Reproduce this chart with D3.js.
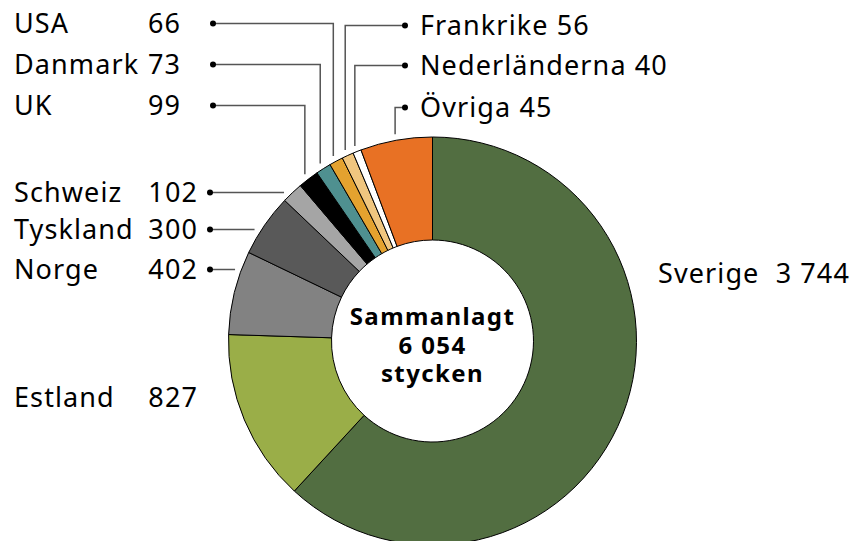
<!DOCTYPE html>
<html>
<head>
<meta charset="utf-8">
<script src="https://cdn.jsdelivr.net/npm/d3@7"></script>
<style>
  body { margin: 0; background: #fff; }
  text { font-family: "Noto Sans", sans-serif; fill: #000; }
</style>
</head>
<body>
<svg id="chart" width="857" height="541"></svg>
<script>
// data
var categories = ["Sverige", "Estland", "Norge", "Tyskland", "Schweiz", "UK", "Danmark", "USA", "Frankrike", "Nederländerna", "Övriga"];
var labelValues = ["3 744", "827", "402", "300", "102", "99", "73", "66", "56", "40", "45"];
// size of each slice as drawn (the orange Övriga slice is drawn much larger than its label)
var sliceValues = [3744, 827, 402, 300, 102, 99, 73, 66, 56, 40, 345];
var colors = ["#526e41", "#9aae48", "#828282", "#595959", "#a5a5a5", "#000000", "#4f9090", "#e4a22f", "#f0c67f", "#ffffff", "#e87124"];
var centerLines = ["Sammanlagt", "6 054", "stycken"];

var svg = d3.select("#chart");
var cx = 432.5, cy = 341, R = 204, r0 = 101;

var pie = d3.pie().sort(null).value(d => d.v);
var arc = d3.arc().innerRadius(r0).outerRadius(R);

var data = categories.map((c, i) => ({name: c, v: sliceValues[i], label: labelValues[i], color: colors[i]}));
var arcs = pie(data);

var g = svg.append("g").attr("transform", `translate(${cx},${cy})`);

g.selectAll("path.slice")
  .data(arcs)
  .enter().append("path")
  .attr("class", "slice")
  .attr("d", arc)
  .attr("fill", d => d.data.color)
  .attr("stroke", "#000")
  .attr("stroke-width", 1);

// centre text
g.selectAll("text.center")
  .data(centerLines)
  .enter().append("text")
  .attr("class", "center")
  .attr("text-anchor", "middle")
  .attr("y", (d, i) => -16 + i * 28.5)
  .style("font-weight", "bold")
  .style("font-size", "24px")
  .style("letter-spacing", "1.4px")
  .text(d => d);

// label layout
var layout = {
  "USA":           {side: "left",  y: 33,  numX: 181, dotX: 213, route: "v"},
  "Danmark":       {side: "left",  y: 74,  numX: 181, dotX: 213, route: "v"},
  "UK":            {side: "left",  y: 115, numX: 181, dotX: 213, route: "v"},
  "Schweiz":       {side: "left",  y: 202, numX: 198, dotX: 210, route: "h"},
  "Tyskland":      {side: "left",  y: 239, numX: 198, dotX: 210, route: "h"},
  "Norge":         {side: "left",  y: 279, numX: 198, dotX: 210, route: "h"},
  "Estland":       {side: "left",  y: 407, numX: 198, route: null},
  "Frankrike":     {side: "right", y: 35,  x: 420, dotX: 405, route: "v"},
  "Nederländerna": {side: "right", y: 75,  x: 420, dotX: 405, route: "v"},
  "Övriga":        {side: "right", y: 117, x: 420, dotX: 405, route: "v"},
  "Sverige":       {side: "right", y: 283, x: 658, route: null, gap: "\u00a0\u00a0"}
};

var rL = R + 6;
var labels = svg.append("g").style("font-size", "27px").style("letter-spacing", "1.1px");

arcs.forEach(function(a) {
  var L = layout[a.data.name];
  if (L.side === "left") {
    labels.append("text").attr("x", 14).attr("y", L.y).text(a.data.name);
    labels.append("text").attr("x", L.numX).attr("y", L.y).attr("text-anchor", "end").text(a.data.label);
  } else {
    labels.append("text").attr("x", L.x).attr("y", L.y).text(a.data.name + (L.gap || " ") + a.data.label);
  }
  if (!L.route) return;

  var dy = L.y - 9.5;
  var pts;
  if (L.route === "v") {
    var mid = (a.startAngle + a.endAngle) / 2;
    var xc = cx + rL * Math.sin(mid), yc = cy - rL * Math.cos(mid);
    pts = [[L.dotX, dy], [xc, dy], [xc, yc]];
  } else {
    var xe = cx - Math.sqrt(rL * rL - (dy - cy) * (dy - cy));
    pts = [[L.dotX, dy], [xe, dy]];
  }
  svg.append("path")
    .attr("d", d3.line()(pts))
    .attr("fill", "none")
    .attr("stroke", "#555")
    .attr("stroke-width", 1.5);
  svg.append("circle")
    .attr("cx", L.dotX).attr("cy", dy).attr("r", 3)
    .attr("fill", "#000");
});
</script>
</body>
</html>
